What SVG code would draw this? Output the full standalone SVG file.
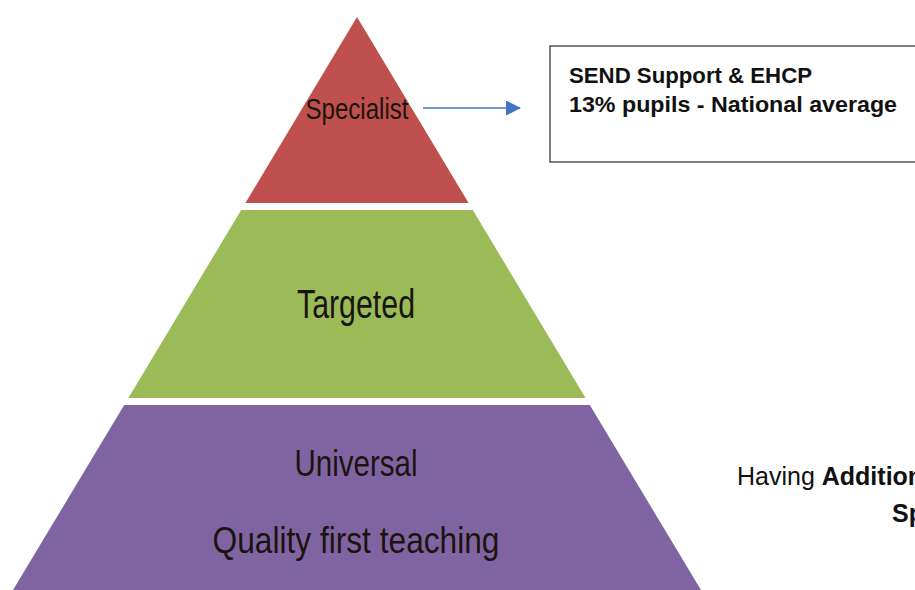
<svg xmlns="http://www.w3.org/2000/svg" width="915" height="590" viewBox="0 0 915 590">
  <defs>
    <style>
      .lbl { font-family: "Liberation Sans", Arial, sans-serif; fill: #1a1410; text-anchor: middle; }
      .box { font-family: "Liberation Sans", Arial, sans-serif; font-weight: bold; font-size: 22px; fill: #111; }
      .side { font-family: "Liberation Sans", Arial, sans-serif; font-size: 25px; fill: #111; }
      .conn { stroke: #4472C4; stroke-width: 1.5; fill: none; }
    </style>
    <marker id="arrowhead" markerWidth="16" markerHeight="16" refX="14" refY="7.5" orient="auto" markerUnits="userSpaceOnUse">
      <path d="M0,0 L15,7.5 L0,15 Z" fill="#4472C4"/>
    </marker>
  </defs>
  <rect x="0" y="0" width="915" height="590" fill="#ffffff"/>

  <g id="specialist">
    <polygon points="357,17 468.6,203 245.4,203" fill="#C0504D"/>
    <text class="lbl" x="357" y="119" font-size="30" textLength="103" lengthAdjust="spacingAndGlyphs">Specialist</text>
  </g>

  <g id="targeted">
    <polygon points="241.2,210 472.8,210 585.6,398 128.4,398" fill="#9BBB59"/>
    <text class="lbl" x="356" y="318" font-size="40" textLength="118" lengthAdjust="spacingAndGlyphs">Targeted</text>
  </g>

  <g id="universal">
    <polygon points="124.2,405 589.8,405 702.2,592 11.8,592" fill="#8064A2"/>
    <text class="lbl" x="356" y="476" font-size="37" textLength="123" lengthAdjust="spacingAndGlyphs">Universal</text>
    <text class="lbl" x="356" y="553" font-size="37" textLength="287" lengthAdjust="spacingAndGlyphs">Quality first teaching</text>
  </g>

  <g id="send-box">
    <rect x="550" y="46" width="380" height="116" fill="#ffffff" stroke="#555555" stroke-width="1.5"/>
    <text class="box" x="569" y="83" textLength="243" lengthAdjust="spacingAndGlyphs">SEND Support &amp; EHCP</text>
    <text class="box" x="569" y="112" textLength="328" lengthAdjust="spacingAndGlyphs">13% pupils - National average</text>
  </g>

  <g id="side-note">
    <text class="side" x="737" y="485">Having <tspan font-weight="bold">Addition</tspan></text>
    <text class="side" x="892" y="522" font-weight="bold">Sp</text>
  </g>

  <g id="connectors">
    <line class="conn" x1="423" y1="108" x2="520" y2="108" marker-end="url(#arrowhead)"/>
  </g>
</svg>
